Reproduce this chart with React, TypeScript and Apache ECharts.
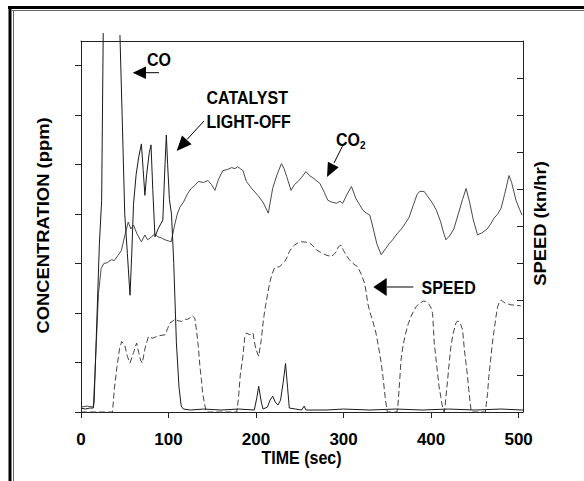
import React, { useEffect, useRef } from "react";
import * as echarts from "echarts";

// TIME (sec) vs concentration (arbitrary ppm units, axis unlabeled)
const timeTickLabels = [0, 100, 200, 300, 400, 500];
const concTicks = [0, 50, 100, 150, 200, 250, 300, 350];
const speedTicks = [0, 10, 20, 30, 40, 50, 60, 70, 80, 90, 100];

// CO (off scale between ~26 s and ~44 s)
const coData: [number, number | null][] = [
  [0, 4], [5, 3], [10, 4], [14, 4], [15, 10], [18, 90], [21, 170], [23.6, 214], [25.4, 383], [26, null],
  [44.5, 381], [47, 300], [50, 200], [53, 160], [56, 118], [58, 160], [60, 210], [63, 240], [66, 258],
  [69, 271], [71, 245], [73, 219], [75, 240], [78, 262], [80, 270], [82, 225], [84.5, 177], [88, 185],
  [91, 190], [93.5, 194], [95.5, 240], [97.5, 280], [99, 250], [101, 215], [103.4, 200], [106, 150],
  [109, 70], [112, 25], [114.5, 6], [117, 3], [125, 2], [140, 3], [160, 2], [180, 3], [198, 2],
  [201, 15], [203, 26], [206, 10], [208, 3], [213, 5], [216, 12], [219, 16], [222, 10], [225, 7],
  [228, 12], [231, 30], [233.7, 49], [236, 25], [238, 4], [245, 3], [252, 2], [255, 6], [257, 2],
  [280, 2], [300, 3], [330, 2], [360, 3], [390, 2], [420, 3], [450, 2], [480, 3], [505, 2],
];

const co2Data: [number, number][] = [
  [0, 5], [7, 6], [14, 5], [16, 40], [17.5, 70], [20, 120], [23, 145], [26, 150], [30, 151], [35, 154],
  [38, 153], [42, 158], [46, 163], [50, 178], [54, 192], [57, 185], [60, 189], [64, 180], [69, 172],
  [73, 179], [76, 174], [79, 176], [82, 178], [84, 180], [88, 177], [92, 176], [96, 174], [100, 173],
  [103, 172], [107, 189], [110, 200], [113, 207], [117, 212], [122, 221], [126, 226], [130, 229],
  [134, 233], [140, 232], [145, 234], [149, 230], [153, 224], [157, 235], [162, 244], [167, 245],
  [172, 247], [176, 246], [179, 248], [182, 246], [185, 244], [189, 233], [195, 226], [202, 219],
  [208, 212], [214, 201], [219, 226], [224, 240], [229, 251], [232, 246], [235, 238], [240, 224],
  [244, 230], [248, 233], [252, 237], [257, 243], [261, 239], [266, 236], [273, 231], [278, 222],
  [282, 214], [287, 212], [292, 211], [296, 213], [299, 211], [304, 220], [309, 228], [314, 216],
  [318, 210], [322, 204], [326, 201], [330, 199], [334, 185], [338, 170], [343, 159], [348, 165],
  [352, 170], [356, 174], [361, 180], [366, 185], [370, 190], [375, 197], [380, 210], [384, 220],
  [387, 223], [392, 223], [396, 218], [401, 212], [406, 204], [411, 192], [414, 182], [417, 174],
  [421, 178], [426, 185], [431, 200], [436, 215], [440, 226], [444, 212], [448, 195], [453, 179],
  [458, 181], [464, 185], [468, 190], [472, 196], [476, 200], [480, 206], [484, 220], [489, 239],
  [492, 232], [497, 214], [501, 205], [504, 199],
];

// SPEED (kn/hr)
const speedData: [number, number][] = [
  [0, 0], [36, 0], [38, 6], [41, 12], [44, 17], [46.5, 19], [50, 18], [53, 15], [56, 13.2], [60, 16],
  [63.5, 18.6], [66, 16], [68, 14], [70, 13.2], [73, 17], [77, 20.3], [82, 19.9], [86, 20.3], [90, 20.6],
  [96, 20.8], [99, 22.5], [101.5, 24], [105, 24.5], [107, 25], [111, 24.6], [115, 24.4], [119, 25],
  [122, 25], [125, 25.5], [127, 26], [130, 25.3], [132, 22], [134, 17.7], [136, 12], [137.6, 8.7],
  [139, 5], [141, 2.4], [143, 0], [178, 0], [180, 4], [182, 10], [185, 15], [187, 20], [189, 21.3],
  [193, 20.8], [196.5, 21.3], [198, 19], [200, 16.8], [203, 15], [206, 19.5], [208, 24], [210, 27.5],
  [213, 31.5], [215.5, 34.7], [218, 37], [221, 38.8], [227, 39.2], [232.6, 40.5], [235, 41.5],
  [238, 43.2], [241, 44.3], [244, 45], [248, 45.6], [251.6, 45.9], [256, 45.8], [261, 45.6],
  [265, 44.8], [269, 43.7], [274, 43], [280, 42.3], [286, 41.9], [289, 42.5], [291.6, 43.2],
  [294, 44.5], [297, 45], [300, 43.5], [303, 42.3], [306, 41.2], [308.6, 40.5], [312, 39.8],
  [316, 39.2], [320, 37.2], [324, 34.7], [326, 32], [327.6, 29.3], [330, 27], [333, 24.8], [337, 21.3],
  [340, 17.5], [343, 13.2], [345, 9.5], [346.6, 6], [348, 3], [350, 0], [361, 0], [362, 1.5], [364, 8],
  [365.6, 14], [368, 18], [371, 21.3], [374, 23.8], [377, 25.7], [380, 27.2], [383, 28.4], [386, 29.2],
  [388.5, 29.5], [391, 29.9], [394, 29.8], [396, 29.4], [398, 28.9], [400, 28], [401.7, 26.6],
  [402.8, 22], [403.6, 18.6], [405.5, 14.5], [407.4, 10.5], [409, 7], [411, 4.2], [412.5, 2],
  [414, 0.6], [415, 0], [416, 1.5], [417, 4.2], [419, 9], [421, 14], [422.7, 17.7], [425, 21],
  [428.4, 24], [430, 24.5], [432, 24.4], [434, 23.5], [436, 22.1], [437, 19.5], [438, 16.8], [440, 13],
  [441.6, 9.6], [443, 6], [444.7, 2.4], [446, 0], [462, 0], [463, 2], [464.5, 5], [466, 9.6], [468, 14],
  [470, 18.6], [472, 22], [474, 25.5], [476, 28.4], [478, 29.6], [480, 30.2], [482, 29.8], [485, 29.3],
  [488, 29.1], [491, 28.9], [495, 28.8], [499, 28.7], [502.5, 28.6],
];

const FONT = "'Liberation Sans', Arial, Helvetica, sans-serif";
const AXIS_COLOR = "#222";
const SY = 1.15;

export default function App() {
  const ref = useRef<HTMLDivElement>(null);

  useEffect(() => {
    if (!ref.current) return;
    const chart = echarts.init(ref.current, null, { renderer: "svg" });
    const txt = (extra: any) => ({
      fontFamily: FONT,
      fontWeight: "bold",
      fontSize: 16,
      fill: "#000",
      ...extra,
    });
    chart.setOption({
      animation: false,
      backgroundColor: "#fff",
      grid: { left: 81, right: 61, top: 41, bottom: 69, outerBoundsMode: "none" },
      xAxis: [
        {
          type: "value",
          min: 0,
          max: 505,
          interval: 100,
          axisLine: { show: true, lineStyle: { color: AXIS_COLOR, width: 1 } },
          axisTick: { show: true, length: 6, inside: false, customValues: timeTickLabels, lineStyle: { color: AXIS_COLOR } },
          axisLabel: {
            show: true,
            margin: 19,
            customValues: timeTickLabels,
            fontFamily: FONT,
            fontWeight: "bold",
            fontSize: 17,
            color: "#000",
          },
          splitLine: { show: false },
        },
        {
          type: "value",
          position: "top",
          min: 0,
          max: 505,
          interval: 100,
          axisLine: { show: true, onZero: false, lineStyle: { color: AXIS_COLOR, width: 1 } },
          axisTick: { show: false },
          axisLabel: { show: false },
          splitLine: { show: false },
        },
      ],
      yAxis: [
        {
          type: "value",
          position: "left",
          min: 0,
          max: 375,
          interval: 50,
          axisLine: { show: true, onZero: false, lineStyle: { color: AXIS_COLOR, width: 1 } },
          axisTick: { show: true, length: 6, inside: false, customValues: concTicks, lineStyle: { color: AXIS_COLOR } },
          axisLabel: { show: false },
          splitLine: { show: false },
        },
        {
          type: "value",
          position: "right",
          min: 0,
          max: 100,
          interval: 10,
          axisLine: { show: true, onZero: false, lineStyle: { color: AXIS_COLOR, width: 1 } },
          axisTick: { show: true, length: 6, inside: true, customValues: speedTicks, lineStyle: { color: AXIS_COLOR } },
          axisLabel: { show: false },
          splitLine: { show: false },
        },
      ],
      series: [
        {
          name: "SPEED",
          type: "line",
          xAxisIndex: 0,
          yAxisIndex: 1,
          data: speedData,
          showSymbol: false,
          symbol: "none",
          lineStyle: { color: "#444", width: 1, type: [6, 3] },
          z: 2,
        },
        {
          name: "CO2",
          type: "line",
          xAxisIndex: 0,
          yAxisIndex: 0,
          data: co2Data,
          showSymbol: false,
          symbol: "none",
          lineStyle: { color: "#4a4a4a", width: 1 },
          z: 3,
        },
        {
          name: "CO",
          type: "line",
          xAxisIndex: 0,
          yAxisIndex: 0,
          data: coData,
          showSymbol: false,
          symbol: "none",
          connectNulls: false,
          clip: false,
          lineStyle: { color: "#1a1a1a", width: 1 },
          z: 4,
        },
      ],
      graphic: [
        // outer frame
        { type: "line", shape: { x1: 8, y1: 7.5, x2: 584, y2: 7.5 }, style: { stroke: "#000", lineWidth: 3 } },
        { type: "line", shape: { x1: 10, y1: 6, x2: 10, y2: 481 }, style: { stroke: "#000", lineWidth: 3 } },
        { type: "line", shape: { x1: 12, y1: 10.5, x2: 584, y2: 10.5 }, style: { stroke: "#666", lineWidth: 1 } },
        { type: "line", shape: { x1: 13.5, y1: 10, x2: 13.5, y2: 481 }, style: { stroke: "#666", lineWidth: 1 } },
        // axis titles
        {
          type: "text",
          x: 301.5,
          y: 458,
          scaleY: SY,
          style: txt({ text: "TIME (sec)", align: "center", verticalAlign: "middle" }),
        },
        {
          type: "text",
          x: 43,
          y: 225.5,
          rotation: Math.PI / 2,
          scaleX: SY,
          style: txt({ text: "CONCENTRATION (ppm)", align: "center", verticalAlign: "middle" }),
        },
        {
          type: "text",
          x: 540,
          y: 223.5,
          rotation: Math.PI / 2,
          scaleX: SY,
          style: txt({ text: "SPEED (kn/hr)", align: "center", verticalAlign: "middle" }),
        },
        // CO label
        { type: "text", x: 147, y: 60, scaleY: SY, style: txt({ text: "CO", align: "left", verticalAlign: "middle" }) },
        { type: "polygon", shape: { points: [[132.7, 72.7], [146, 66.5], [146, 79]] }, style: { fill: "#000" } },
        { type: "line", shape: { x1: 146, y1: 72.7, x2: 159, y2: 72.7 }, style: { stroke: "#000", lineWidth: 1 } },
        // Catalyst light-off
        { type: "text", x: 206.5, y: 97.7, scaleY: SY, style: txt({ text: "CATALYST", align: "left", verticalAlign: "middle" }) },
        { type: "text", x: 206.5, y: 121.7, scaleY: SY, style: txt({ text: "LIGHT-OFF", align: "left", verticalAlign: "middle" }) },
        { type: "line", shape: { x1: 204, y1: 121, x2: 187, y2: 139.5 }, style: { stroke: "#000", lineWidth: 1 } },
        { type: "polygon", shape: { points: [[176.7, 151], [182, 135.5], [191.6, 144.3]] }, style: { fill: "#000" } },
        // CO2 label
        {
          type: "text",
          x: 336,
          y: 140,
          scaleY: SY,
          style: txt({
            text: "CO{s|2}",
            align: "left",
            verticalAlign: "middle",
            rich: { s: { fontFamily: FONT, fontWeight: "bold", fontSize: 10, padding: [9, 0, 0, 0] } },
          }),
        },
        { type: "line", shape: { x1: 343, y1: 145, x2: 334, y2: 163 }, style: { stroke: "#000", lineWidth: 1 } },
        { type: "polygon", shape: { points: [[327, 177], [327.9, 161.8], [338.7, 167.2]] }, style: { fill: "#000" } },
        // SPEED label
        { type: "polygon", shape: { points: [[373.3, 287], [386.7, 278], [386.7, 296]] }, style: { fill: "#000" } },
        { type: "line", shape: { x1: 386.7, y1: 287, x2: 413.3, y2: 287 }, style: { stroke: "#000", lineWidth: 1 } },
        { type: "text", x: 421.5, y: 288, scaleY: SY, style: txt({ text: "SPEED", align: "left", verticalAlign: "middle" }) },
      ],
    });
    return () => chart.dispose();
  }, []);

  return (
    <div
      ref={ref}
      style={{ position: "fixed", left: 0, top: 0, width: 584, height: 481, background: "#fff" }}
    />
  );
}
